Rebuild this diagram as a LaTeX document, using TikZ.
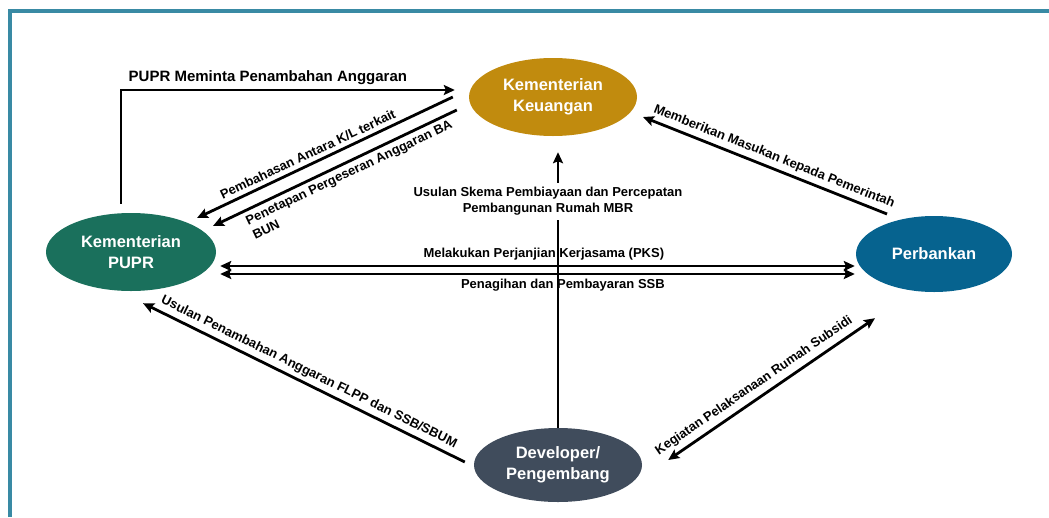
\documentclass[tikz,border=0pt]{standalone}
\usepackage{fontspec}
\setmainfont{Liberation Sans}
\usetikzlibrary{arrows.meta,calc,shapes.geometric}

\definecolor{keucol}{RGB}{193,139,14}
\definecolor{puprcol}{RGB}{26,112,92}
\definecolor{bankcol}{RGB}{6,99,143}
\definecolor{devcol}{RGB}{64,76,92}
\definecolor{framecol}{RGB}{57,138,164}

\tikzset{
  actor/.style={ellipse, draw=none, text=white, align=center, inner sep=0pt,
    font=\bfseries\fontsize{16.5}{21}\selectfont},
  flow/.style={line width=2.8pt, -{Stealth[length=11pt,width=10pt,inset=2pt]}},
  biflow/.style={line width=2.8pt,
    {Stealth[length=11pt,width=10pt,inset=2pt]}-{Stealth[length=11pt,width=10pt,inset=2pt]}},
  lbl/.style={font=\bfseries\fontsize{13}{16}\selectfont, inner sep=1pt}
}

\begin{document}
\begin{tikzpicture}[x=1pt,y=-1pt]
  \useasboundingbox (0,0) rectangle (1049,517);
  % frame
  \draw[framecol, line width=4pt] (10,517) -- (10,11) -- (1049,11);

  % actors
  \node[actor, fill=keucol, minimum width=168pt, minimum height=78pt] (keu) at (553,97) {Kementerian\\Keuangan};
  \node[actor, fill=puprcol, minimum width=170pt, minimum height=78pt] (pupr) at (131,252) {Kementerian\\PUPR};
  \node[actor, fill=bankcol, minimum width=156pt, minimum height=76pt] (bank) at (934,254) {Perbankan};
  \node[actor, fill=devcol, minimum width=168pt, minimum height=74pt] (dev) at (558,465) {Developer/\\Pengembang};

  % PUPR <-> Keuangan
  \draw[flow] ($(pupr.north)+(-10,-9)$) |- ($(keu.west)+(-14,-7)$)
    node[lbl, pos=0.72, above=3pt, font=\bfseries\fontsize{15}{18}\selectfont] {PUPR Meminta Penambahan Anggaran};
  \draw[flow] ($(keu.west)+(-16,0)$) -- ($(pupr)+(66,-34)$)
    node[lbl, sloped, above=3pt, pos=0.55] {Pembahasan Antara K/L terkait};
  \draw[flow] ($(keu.west)+(-12,13)$) -- ($(pupr)+(82,-26)$)
    node[lbl, sloped, below=3pt, pos=0.46, align=left] {Penetapan Pergeseran Anggaran BA\\BUN};

  % Perbankan -> Keuangan
  \draw[flow] ($(bank)+(-47,-40)$) -- ($(keu)+(90,20)$)
    node[lbl, sloped, above=3pt, pos=0.48] {Memberikan Masukan kepada Pemerintah};

  % PUPR <-> Perbankan
  \draw[biflow] ($(pupr.east)+(4,14)$) -- ($(bank.west)+(-1,12)$)
    node[lbl, above=3pt, pos=0.51] {Melakukan Perjanjian Kerjasama (PKS)};
  \draw[biflow] ($(pupr.east)+(4,22)$) -- ($(bank.west)+(-1,20)$)
    node[lbl, below=3pt, pos=0.54] {Penagihan dan Pembayaran SSB};

  % Developer -> Keuangan
  \node[lbl, align=center] (skema) at (548,201) {Usulan Skema Pembiayaan dan Percepatan\\Pembangunan Rumah MBR};
  \draw[line width=2.8pt] (dev.north) -- ($(dev.north |- skema.south)+(0,4)$);
  \draw[flow] ($(dev.north |- skema.north)+(0,-3)$) -- ($(dev.north |- keu.south)+(0,16)$);

  % Developer -> PUPR, Developer <-> Perbankan
  \draw[flow] ($(dev.west)+(-9,-3)$) -- ($(pupr.south)+(12,12)$)
    node[lbl, sloped, above=3pt, pos=0.5] {Usulan Penambahan Anggaran FLPP dan SSB/SBUM};
  \draw[biflow] ($(dev.east)+(26,-5)$) -- ($(bank.south)+(-59,26)$)
    node[lbl, sloped, above=4pt, pos=0.45] {Kegiatan Pelaksanaan Rumah Subsidi};
\end{tikzpicture}
\end{document}
